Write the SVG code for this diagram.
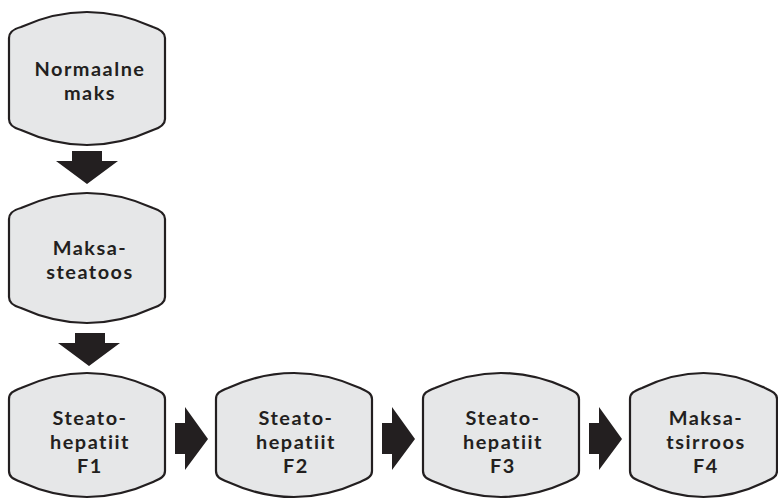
<svg xmlns="http://www.w3.org/2000/svg" width="778" height="499" viewBox="0 0 778 499">
<style>
.box{fill:#e6e7e8;stroke:#231f20;stroke-width:2.2}
.lbl{font-family:Lato,"Open Sans","DejaVu Sans",sans-serif;font-weight:bold;font-size:19.9px;letter-spacing:1.5px;fill:#231f20;text-anchor:middle}
.arr{fill:#231f20}
</style>
<rect width="778" height="499" fill="#ffffff"/>
<g id="connectors">
<path class="arr" d="M72,151 H102 V161 H118 L87,184 L56,161 H72 Z"/>
<path class="arr" d="M75,333 H105 V343 H120 L89,366 L58,343 H75 Z"/>
<path class="arr" d="M175,423 H185 V407 L208,439 L185,470 V454 H175 Z"/>
<path class="arr" d="M382,423 H392 V407 L415,439 L392,470 V454 H382 Z"/>
<path class="arr" d="M589,423 H599 V407 L622,439 L599,470 V454 H589 Z"/>
</g>
<g id="node-normaalne">
<path class="box" d="M9,38 C9,32 13,29.2 21,27 Q87,-3 153,27 C160,29.2 165,32 165,38 L165,119 C165,125 160,127.8 153,130 Q87,160 21,130 C13,127.8 9,125 9,119 Z"/>
<text class="lbl"><tspan x="90" y="76">Normaalne</tspan><tspan x="90" y="100">maks</tspan></text>
</g>
<g id="node-steatoos">
<path class="box" d="M9,219 C9,213 13,210.2 21,208 Q87,178 153,208 C160,210.2 165,213 165,219 L165,297 C165,303 160,305.8 153,308 Q87,338 21,308 C13,305.8 9,303 9,297 Z"/>
<text class="lbl"><tspan x="90" y="255">Maksa-</tspan><tspan x="90" y="279">steatoos</tspan></text>
</g>
<g id="node-f1">
<path class="box" d="M9,399 C9,393 13,391.2 21,388 Q87,358 153,388 C160,391.2 165,393 165,399 L165,471 C165,477 160,478.8 153,482 Q87,512 21,482 C13,478.8 9,477 9,471 Z"/>
<text class="lbl"><tspan x="90" y="425">Steato-</tspan><tspan x="90" y="449">hepatiit</tspan><tspan x="90" y="473">F1</tspan></text>
</g>
<g id="node-f2">
<path class="box" d="M216,399 C216,393 220,391.2 228,388 Q294,358 360,388 C367,391.2 372,393 372,399 L372,471 C372,477 367,478.8 360,482 Q294,512 228,482 C220,478.8 216,477 216,471 Z"/>
<text class="lbl"><tspan x="296" y="425">Steato-</tspan><tspan x="296" y="449">hepatiit</tspan><tspan x="296" y="473">F2</tspan></text>
</g>
<g id="node-f3">
<path class="box" d="M423,399 C423,393 427,391.2 435,388 Q501,358 567,388 C574,391.2 579,393 579,399 L579,471 C579,477 574,478.8 567,482 Q501,512 435,482 C427,478.8 423,477 423,471 Z"/>
<text class="lbl"><tspan x="503" y="425">Steato-</tspan><tspan x="503" y="449">hepatiit</tspan><tspan x="503" y="473">F3</tspan></text>
</g>
<g id="node-f4">
<path class="box" d="M630,399 C630,393 634,391.2 642,388 Q703.5,358 765,388 C772,391.2 777,393 777,399 L777,471 C777,477 772,478.8 765,482 Q703.5,512 642,482 C634,478.8 630,477 630,471 Z"/>
<text class="lbl"><tspan x="706" y="425">Maksa-</tspan><tspan x="706" y="449">tsirroos</tspan><tspan x="706" y="473">F4</tspan></text>
</g>
</svg>
